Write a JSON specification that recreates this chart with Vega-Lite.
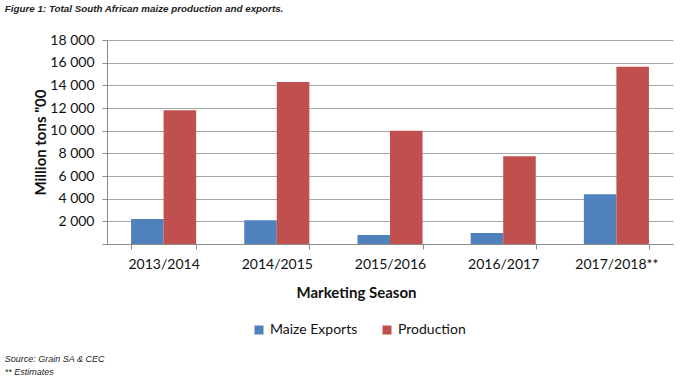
{
  "$schema": "https://vega.github.io/schema/vega-lite/v6.json",
  "background": "white",
  "padding": {"left": 4, "top": 4, "right": 10, "bottom": 4},
  "title": {
    "text": "Figure 1: Total South African maize production and exports.",
    "anchor": "start",
    "font": "Liberation Sans",
    "fontSize": 9.8,
    "fontStyle": "italic",
    "fontWeight": "bold",
    "color": "#222222",
    "offset": 19
  },
  "vconcat": [
    {
      "width": 566,
      "height": 204,
      "data": {
        "values": [
          {"season": "2013/2014", "series": "Maize Exports", "value": 2200},
          {"season": "2013/2014", "series": "Production", "value": 11800},
          {"season": "2014/2015", "series": "Maize Exports", "value": 2100},
          {"season": "2014/2015", "series": "Production", "value": 14300},
          {"season": "2015/2016", "series": "Maize Exports", "value": 800},
          {"season": "2015/2016", "series": "Production", "value": 10000},
          {"season": "2016/2017", "series": "Maize Exports", "value": 970},
          {"season": "2016/2017", "series": "Production", "value": 7750},
          {"season": "2017/2018**", "series": "Maize Exports", "value": 4380},
          {"season": "2017/2018**", "series": "Production", "value": 15630}
        ]
      },
      "mark": {"type": "bar"},
      "encoding": {
        "x": {
          "field": "season",
          "type": "nominal",
          "sort": null,
          "scale": {"paddingInner": 0.425, "paddingOuter": 0.2125},
          "axis": {
            "title": "Marketing Season",
            "labelAngle": 0,
            "labelFont": "Lato",
            "labelFontSize": 14,
            "labelColor": "#111111",
            "labelPadding": 8,
            "tickBand": "extent",
            "tickSize": 5,
            "tickColor": "#8c8c8c",
            "domainColor": "#8c8c8c",
            "titleFont": "Lato",
            "titleFontSize": 15,
            "titleFontWeight": "bold",
            "titleColor": "#111111",
            "titleX": 249,
            "titlePadding": 14
          }
        },
        "xOffset": {
          "field": "series",
          "type": "nominal",
          "sort": ["Maize Exports", "Production"],
          "scale": {"paddingInner": 0, "paddingOuter": 0}
        },
        "y": {
          "field": "value",
          "type": "quantitative",
          "scale": {"domain": [0, 18000]},
          "axis": {
            "title": "Million tons \"00",
            "values": [0, 2000, 4000, 6000, 8000, 10000, 12000, 14000, 16000, 18000],
            "labelExpr": "datum.value == 0 ? '' : replace(format(datum.value, ','), ',', ' ')",
            "labelFont": "Lato",
            "labelFontSize": 14,
            "labelColor": "#111111",
            "labelPadding": 8,
            "tickSize": 5,
            "tickColor": "#8c8c8c",
            "domainColor": "#8c8c8c",
            "gridColor": "#a6a6a6",
            "gridWidth": 1,
            "titleFont": "Lato",
            "titleFontSize": 15,
            "titleFontWeight": "bold",
            "titleColor": "#111111",
            "titlePadding": 1
          }
        },
        "color": {
          "field": "series",
          "type": "nominal",
          "sort": ["Maize Exports", "Production"],
          "scale": {"domain": ["Maize Exports", "Production"], "range": ["#4F81BD", "#C0504D"]},
          "legend": {
            "title": null,
            "orient": "none",
            "direction": "horizontal",
            "legendX": 145,
            "legendY": 283,
            "symbolType": "square",
            "symbolSize": 81,
            "symbolStrokeWidth": 0,
            "labelFont": "Lato",
            "labelFontSize": 14,
            "labelColor": "#111111",
            "columnPadding": 22,
            "labelOffset": 4
          }
        }
      },
      "title": {
        "text": ["Source: Grain SA & CEC", "** Estimates"],
        "orient": "bottom",
        "anchor": "start",
        "dx": -29,
        "font": "Liberation Sans",
        "fontSize": 9,
        "fontStyle": "italic",
        "fontWeight": "normal",
        "color": "#222222",
        "lineHeight": 13,
        "offset": 55
      }
    }
  ],
  "config": {
    "view": {"stroke": null},
    "concat": {"spacing": 0}
  }
}
